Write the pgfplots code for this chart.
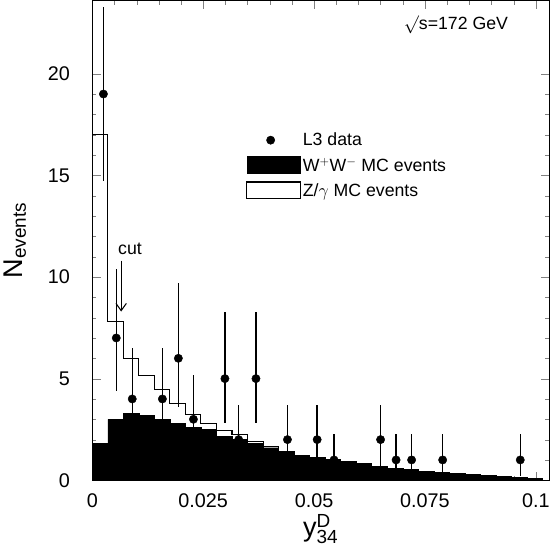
\documentclass[border=0pt]{standalone}
\usepackage{pgfplots}
\pgfplotsset{compat=1.18}
\usetikzlibrary{arrows.meta}
\usepackage{fontspec}
\setmainfont{Liberation Sans}
\begin{document}
\begin{tikzpicture}
\begin{axis}[
  width=437bp, height=459bp, scale only axis,
  xmin=0, xmax=0.103, ymin=0, ymax=23.6,
  xtick={0,0.025,0.05,0.075,0.1},
  xticklabels={0,0.025,0.05,0.075,0.1},
  ytick={0,5,10,15,20},
  minor x tick num=4, minor y tick num=4,
  tick align=inside, tick pos=both,
  major tick length=8pt, minor tick length=4pt,
  /pgf/number format/assume math mode=true,
  tick label style={font=\fontsize{19}{22}\selectfont},
  yticklabel style={xshift=-18pt},
  xticklabel style={yshift=-9pt},
  xlabel={\fontsize{26}{30}\selectfont y$^{\mathrm{D}}_{\mathrm{34}}$},
  ylabel={\fontsize{26}{30}\selectfont N$_{\mathrm{events}}$},
  ylabel style={yshift=14pt},
  xlabel style={yshift=0pt},
  legend style={draw=none, fill=none, at={(axis cs:0.034,17.3)}, anchor=north west,
    font=\fontsize{17}{20}\selectfont, row sep=6pt,
    /tikz/every even column/.append style={column sep=4pt}},
  legend cell align=left,
  axis line style={line width=1pt},
]
\addlegendimage{only marks, mark=*, mark size=4pt, black}
\addlegendentry{L3 data}
\addlegendimage{legend image code/.code={\draw[fill=black,draw=black] (-0.5cm,-0.25cm) rectangle (1.3cm,0.3cm);}}
\addlegendentry{W$^{+}$W$^{-}$ MC events}
\addlegendimage{legend image code/.code={\draw[fill=white,draw=black,line width=1pt] (-0.5cm,-0.25cm) rectangle (1.3cm,0.3cm);}}
\addlegendentry{Z/$\gamma$ MC events}
\addplot[ybar interval, fill=black, draw=black, forget plot] table {
x y
0.0000 1.8
0.0035 3.0
0.0070 3.3
0.0105 3.2
0.0140 3.0
0.0175 2.8
0.0210 2.6
0.0245 2.5
0.0280 2.15
0.0315 2.0
0.0350 1.8
0.0385 1.6
0.0420 1.4
0.0455 1.2
0.0490 1.1
0.0525 1.0
0.0560 0.9
0.0595 0.8
0.0630 0.7
0.0665 0.6
0.0700 0.55
0.0735 0.45
0.0770 0.4
0.0805 0.35
0.0840 0.3
0.0875 0.25
0.0910 0.2
0.0945 0.15
0.0980 0.1
0.1015 0.1
};
\addplot[const plot, black, line width=1pt, forget plot] table {
x y
0.0000 17
0.0035 7.8
0.0070 6.0
0.0105 5.15
0.0140 4.45
0.0175 3.8
0.0210 3.25
0.0245 2.8
0.0280 2.45
0.0315 2.25
0.0350 1.9
0.0385 1.65
0.0420 1.4
0.0455 1.2
0.0490 1.1
0.0525 1.0
0.0560 0.9
0.0595 0.8
0.0630 0.7
0.0665 0.6
0.0700 0.55
0.0735 0.45
0.0770 0.4
0.0805 0.35
0.0840 0.3
0.0875 0.25
0.0910 0.2
0.0945 0.15
0.0980 0.1
0.1015 0.1
};
\addplot[only marks, mark=*, mark size=4pt, black, forget plot,
  error bars/.cd, y dir=both, y explicit, error bar style={line width=1.3pt}, error mark=none]
  table[x=x, y=y, y error plus=ep, y error minus=em] {
x y ep em
0.0025 19 4.3 4.3
0.0054 7 3.4 2.6
0.0090 4 2.5 2.0
0.0158 4 2.5 2.0
0.0194 6 3.7 2.4
0.0228 3 2.2 1.7
0.0299 5 3.3 2.2
0.0330 2 1.7 1.3
0.0369 5 3.3 2.2
0.0440 2 1.7 1.3
0.0507 2 1.7 1.3
0.0545 1 1.3 0.8
0.0650 2 1.7 1.3
0.0685 1 1.3 0.8
0.0720 1 1.3 0.8
0.0790 1 1.3 0.8
0.0965 1 1.3 0.8
};
\draw[-{Straight Barb[length=7pt,width=10pt]}, line width=1pt] (axis cs:0.0065,10.8) -- (axis cs:0.0065,8.3);
\node[font=\fontsize{17}{20}\selectfont, anchor=south] at (axis cs:0.0085,10.9) {cut};
\node[font=\fontsize{17}{20}\selectfont] at (axis cs:0.082,22.4) {$\surd$s=172 GeV};
\end{axis}
\end{tikzpicture}
\end{document}
